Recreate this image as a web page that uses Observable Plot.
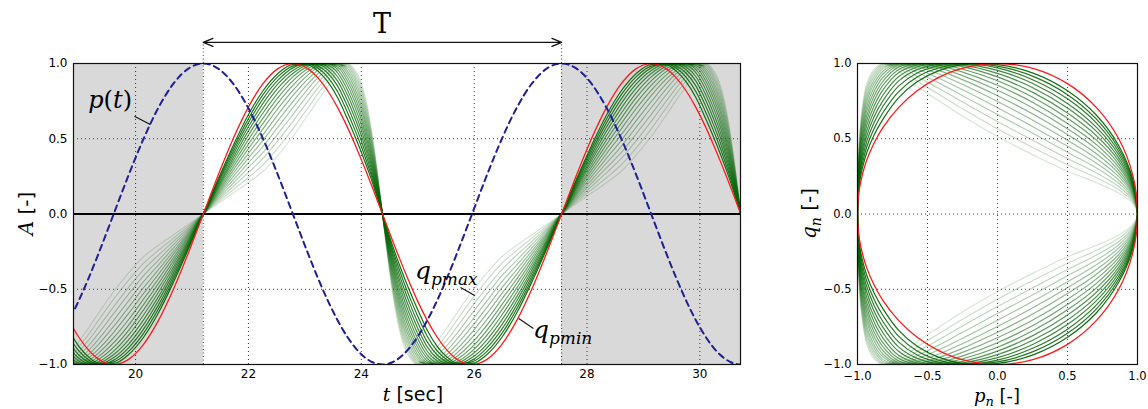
<!DOCTYPE html>
<html><head><meta charset="utf-8">
<script src="https://cdn.jsdelivr.net/npm/d3@7"></script>
<script src="https://cdn.jsdelivr.net/npm/@observablehq/plot@0.6"></script>
<style>
body{margin:0;background:#fff;}
#wrap{position:relative;width:1148px;height:409px;overflow:hidden;background:#fff;}
#left,#right{position:absolute;top:0;}
#left{left:0;} #right{left:780px;}
</style></head><body><div id="wrap"><div id="left"></div><div id="right"></div></div>
<script>
// ---------------- data ----------------
const periodStart = 21.2;          // left "T" marker [sec]
const periodEnd = 27.55;           // right "T" marker [sec]
const tDomain = [18.9, 30.72];     // visible time window
const tTicks = [20, 22, 24, 26, 28, 30];
const aTicks = [-1, -0.5, 0, 0.5, 1];
const pnTicks = [-1, -0.5, 0, 0.5, 1];

// sample phases over one half period (degrees from the left T marker)
const phaseDeg = [0, 15, 30, 45, 60, 75, 90, 105, 115, 125, 135, 145, 152, 159, 165, 170, 175, 180];
// p(t) (blue dashed) at those phases
const pHalf = [1, 0.966, 0.866, 0.707, 0.5, 0.259, 0, -0.259, -0.423, -0.574, -0.707, -0.819, -0.883, -0.934, -0.966, -0.985, -0.996, -1];
// q_pmin (red)
const qRed = [0, 0.259, 0.5, 0.707, 0.866, 0.966, 1, 0.966, 0.906, 0.819, 0.707, 0.574, 0.469, 0.358, 0.259, 0.174, 0.087, 0];
// green family, darkest (next to q_pmin) to lightest (q_pmax)
const qG01 = [0, .233, .454, .656, .819, .934, .993, .991, .951, .879, .772, .629, .522, .407, .301, .208, .105, 0];
const qG02 = [0, .223, .434, .630, .793, .913, .983, .998, .970, .910, .812, .673, .564, .445, .331, .230, .116, 0];
const qG03 = [0, .212, .414, .604, .765, .889, .971, 1.00, .984, .937, .850, .714, .604, .482, .361, .251, .128, 0];
const qG04 = [0, .201, .394, .576, .735, .864, .954, .998, .994, .959, .883, .752, .643, .518, .391, .272, .139, 0];
const qG05 = [0, .190, .373, .549, .704, .836, .934, .991, .999, .977, .912, .789, .680, .553, .420, .294, .151, 0];
const qG06 = [0, .179, .353, .520, .671, .805, .911, .981, 1.00, .989, .938, .823, .715, .588, .449, .314, .162, 0];
const qG07 = [0, .169, .332, .491, .637, .773, .885, .965, .995, .997, .959, .854, .749, .621, .477, .335, .174, 0];
const qG08 = [0, .158, .311, .461, .602, .738, .855, .946, .986, 1.00, .976, .882, .781, .653, .505, .356, .185, 0];
const qG09 = [0, .147, .290, .431, .566, .701, .822, .923, .973, .998, .988, .907, .811, .685, .532, .377, .196, 0];
const qG10 = [0, .136, .269, .400, .528, .661, .786, .896, .954, .991, .996, .930, .839, .714, .559, .397, .208, 0];
const qG11 = [0, .125, .248, .369, .490, .620, .747, .865, .932, .979, 1.00, .949, .865, .743, .585, .417, .219, 0];
const qG12 = [0, .114, .226, .338, .450, .577, .706, .830, .904, .962, .999, .966, .888, .770, .611, .437, .231, 0];
const qG13 = [0, .103, .204, .306, .410, .533, .661, .791, .873, .940, .994, .979, .910, .797, .636, .457, .242, 0];
const qG14 = [0, .092, .183, .273, .369, .487, .615, .749, .837, .914, .984, .989, .929, .821, .660, .477, .253, 0];
const qG15 = [0, .081, .161, .241, .327, .439, .566, .704, .798, .883, .970, .996, .946, .844, .684, .496, .264, 0];
const qG16 = [0, .070, .139, .208, .284, .391, .515, .656, .755, .848, .951, .999, .961, .866, .707, .515, .276, 0];
const greens = [qG01, qG02, qG03, qG04, qG05, qG06, qG07, qG08, qG09, qG10, qG11, qG12, qG13, qG14, qG15, qG16];

// ---------------- tables built from the data ----------------
const T = periodEnd - periodStart;
const cycleStarts = [periodStart - T, periodStart, periodEnd];
const n = phaseDeg.length;
// upper half: phase -> value ; lower half: mirrored in time (phase 360-θ), sign applied
function timeSeries(half, lowerSign) {
  const rows = [];
  for (const c of cycleStarts) {
    for (let i = 0; i < n; i++) rows.push({t: c + phaseDeg[i] / 360 * T, v: half[i]});
    for (let i = n - 2; i >= 1; i--) rows.push({t: c + (360 - phaseDeg[i]) / 360 * T, v: lowerSign * half[i]});
  }
  return rows;
}
function phaseLoop(half) {
  const rows = [];
  for (let i = 0; i < n; i++) rows.push({p: pHalf[i], q: half[i]});
  for (let i = n - 2; i >= 1; i--) rows.push({p: pHalf[i], q: -half[i]});
  return rows;
}
const shade = [{a: tDomain[0], b: periodStart}, {a: periodEnd, b: tDomain[1]}];
const mid = (periodStart + periodEnd) / 2;

const green = "#006400";
const opac = k => 0.92 - k * (0.76 / (greens.length - 1));
const grid = {stroke: "#000", strokeOpacity: 0.75, strokeWidth: 1, strokeDasharray: "1,3"};
const font = {fontFamily: "DejaVu Sans", fontSize: "12px", background: "white", overflow: "visible", color: "#000"};

// ---------------- left: time domain ----------------
const leftMarks = [
  Plot.rect(shade, {x1: "a", x2: "b", y1: -1, y2: 1, fill: "#d9d9d9"}),
  Plot.ruleX(tTicks, grid),
  Plot.ruleY(aTicks, grid),
  Plot.ruleX([periodStart, periodEnd], {y1: -1, y2: 1.14, ...grid, strokeDasharray: "1,2.5"})
];
for (let k = greens.length - 1; k >= 0; k--) {
  leftMarks.push(Plot.line(timeSeries(greens[k], -1), {x: "t", y: "v", stroke: green, strokeOpacity: opac(k), strokeWidth: 1.2, curve: "monotone-x", clip: true}));
}
leftMarks.push(
  Plot.ruleY([0], {stroke: "#000", strokeWidth: 2}),
  Plot.line(timeSeries(qRed, -1), {x: "t", y: "v", stroke: "#ff1a1a", strokeWidth: 1.3, curve: "monotone-x", clip: true}),
  Plot.line(timeSeries(pHalf, 1), {x: "t", y: "v", stroke: "#1f1f96", strokeWidth: 2, strokeDasharray: "6,4.5", curve: "monotone-x", clip: true}),
  Plot.frame({stroke: "#111", strokeWidth: 1.2}),
  Plot.arrow([{a: mid, b: periodStart}, {a: mid, b: periodEnd}], {x1: "a", x2: "b", y1: 1.14, y2: 1.14, stroke: "#111", strokeWidth: 1.3, headLength: 12, headAngle: 45, bend: 0}),
  Plot.link([{x1: 19.98, y1: 0.65, x2: 20.26, y2: 0.595}, {x1: 25.76, y1: -0.488, x2: 26.01, y2: -0.541}, {x1: 26.79, y1: -0.694, x2: 27.05, y2: -0.761}],
    {x1: "x1", y1: "y1", x2: "x2", y2: "y2", stroke: "#111", strokeWidth: 1.1})
);
const left = Plot.plot({
  width: 760, height: 409, marginLeft: 73, marginRight: 20, marginTop: 63, marginBottom: 45,
  style: font,
  x: {domain: tDomain, ticks: tTicks, tickFormat: d => String(d), tickSize: 0, tickPadding: 5, label: null},
  y: {domain: [-1, 1], ticks: aTicks, tickFormat: d3.format(".1f"), tickSize: 0, tickPadding: 6, label: null},
  marks: leftMarks
});
document.getElementById("left").append(left);

// ---------------- right: phase portrait ----------------
const rightMarks = [Plot.ruleX(pnTicks, grid), Plot.ruleY(pnTicks, grid)];
for (let k = greens.length - 1; k >= 0; k--) {
  rightMarks.push(Plot.line(phaseLoop(greens[k]), {x: "p", y: "q", stroke: green, strokeOpacity: opac(k), strokeWidth: 1.2, curve: "catmull-rom-closed", clip: true}));
}
rightMarks.push(
  Plot.line(phaseLoop(qRed), {x: "p", y: "q", stroke: "#ff1a1a", strokeWidth: 1.3, curve: "catmull-rom-closed", clip: true}),
  Plot.frame({stroke: "#111", strokeWidth: 1.2})
);
const right = Plot.plot({
  width: 368, height: 409, marginLeft: 77, marginRight: 11, marginTop: 63, marginBottom: 45,
  style: {...font, fontSize: "11.5px"},
  x: {domain: [-1, 1], ticks: pnTicks, tickFormat: d3.format(".1f"), tickSize: 0, tickPadding: 7, label: null},
  y: {domain: [-1, 1], ticks: pnTicks, tickFormat: d3.format(".1f"), tickSize: 0, tickPadding: 6, label: null},
  marks: rightMarks
});
document.getElementById("right").append(right);

// ---------------- math-style text labels ----------------
function scaleFn(plot, name) {
  const s = plot.scale(name);
  return s.apply ? v => s.apply(v) : d3.scaleLinear(s.domain, s.range);
}
function mathText(svg, x, y, parts, {size = 20, anchor = "start", rotate = 0} = {}) {
  const t = d3.select(svg).append("text")
    .attr("transform", `translate(${x},${y}) rotate(${rotate})`)
    .attr("text-anchor", anchor).style("font-size", size + "px").attr("fill", "#000");
  for (const p of parts) {
    const s = t.append("tspan").text(p.text)
      .style("font-family", p.serif ? "DejaVu Serif" : "DejaVu Sans")
      .style("font-style", p.italic ? "italic" : "normal");
    if (p.size) s.style("font-size", p.size + "px");
    if (p.dy) s.attr("dy", p.dy);
  }
}
const lx = scaleFn(left, "x"), ly = scaleFn(left, "y");
mathText(left, lx(mid), ly(1.2), [{text: "T", serif: true}], {size: 27, anchor: "middle"});
mathText(left, lx(19.17), ly(0.70), [{text: "p", serif: true, italic: true}, {text: "(", serif: true}, {text: "t", serif: true, italic: true}, {text: ")", serif: true}], {size: 24});
mathText(left, lx(24.96), ly(-0.437), [{text: "q", serif: true, italic: true}, {text: "pmax", serif: true, italic: true, size: 17, dy: 6}], {size: 25});
mathText(left, lx(27.05), ly(-0.83), [{text: "q", serif: true, italic: true}, {text: "pmin", serif: true, italic: true, size: 17, dy: 6}], {size: 25});
mathText(left, 33, ly(0), [{text: "A", serif: true, italic: true}, {text: " [-]"}], {size: 20, anchor: "middle", rotate: -90});
mathText(left, lx(mid + 0.55), 401, [{text: "t", serif: true, italic: true}, {text: " [sec]"}], {size: 19, anchor: "middle"});

const rx = scaleFn(right, "x"), ry = scaleFn(right, "y");
mathText(right, 36, ry(0), [{text: "q", serif: true, italic: true}, {text: "n", serif: true, italic: true, size: 14, dy: 5}, {text: " [-]", dy: -5}], {size: 20, anchor: "middle", rotate: -90});
mathText(right, rx(0), 402, [{text: "p", serif: true, italic: true}, {text: "n", serif: true, italic: true, size: 13, dy: 4}, {text: " [-]", dy: -4}], {size: 18, anchor: "middle"});
</script></body></html>
